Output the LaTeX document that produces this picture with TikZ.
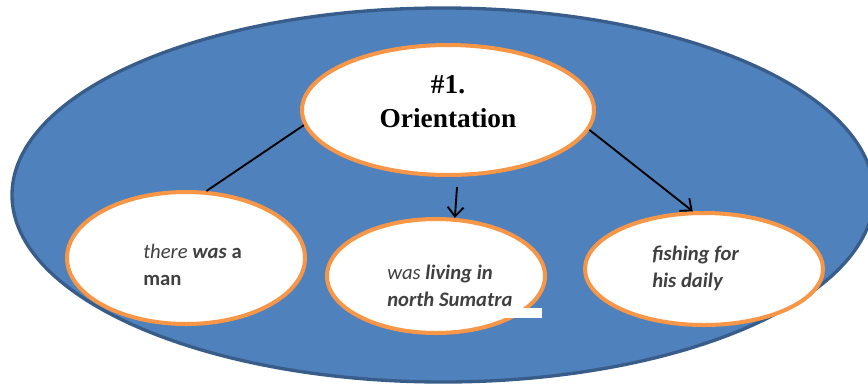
\documentclass[tikz,border=0pt]{standalone}
\usepackage{fontspec}
\setmainfont{Carlito}
\newfontfamily\serifb{Liberation Serif}
\usetikzlibrary{shapes.geometric,arrows.meta}
\definecolor{fillblue}{HTML}{4F81BD}
\definecolor{edgeblue}{HTML}{385D8A}
\definecolor{orangeedge}{HTML}{F79646}
\definecolor{textgray}{HTML}{404040}
\begin{document}
\begin{tikzpicture}[x=0.75pt,y=-0.75pt,
  bubble/.style={ellipse,draw=orangeedge,line width=3pt,fill=white,inner sep=0pt},
  txt/.style={anchor=base west,align=left,text=textgray,inner sep=0pt,
    font=\fontsize{15.5}{20.25}\selectfont},
  plainlink/.style={line width=1.4pt},
  link/.style={line width=1.4pt,-{Straight Barb[length=7pt,width=12pt]}}]
\useasboundingbox (0,0) rectangle (868,383);
\clip (0,0) rectangle (868,383);
% big background ellipse
\draw[fill=fillblue,draw=edgeblue,line width=2.5pt] (443,195) ellipse [x radius=323.25pt,y radius=140.25pt];
% bubbles
\node[bubble,minimum width=219pt,minimum height=97.5pt] (top) at (448,110) {};
\node[bubble,minimum width=178.5pt,minimum height=99pt] (left) at (186,258) {};
\node[bubble,minimum width=163.5pt,minimum height=85.5pt] (mid) at (436,276) {};
\node[bubble,minimum width=178.5pt,minimum height=84pt] (right) at (704,269) {};
\fill[white] (368,308) rectangle (542,318);
% texts (base anchor = baseline of the last line)
\node[anchor=base,align=center,inner sep=0pt,font=\serifb\bfseries\fontsize{20.5}{25.5}\selectfont] (ttop) at (448,127) {\#1.\\Orientation};
\node[txt] (tleft) at (143,285) {\textit{there} \textbf{\textit{was}} \textbf{a}\\\textbf{man}};
\node[txt] (tmid) at (387,306) {\textit{was} \textbf{\textit{living in}}\\\textbf{\textit{north Sumatra}}};
\node[txt] (tright) at (652,287) {\textbf{\textit{fishing for}}\\\textbf{\textit{his daily}}};
% connectors
\coordinate (mstart) at (457,187);
\draw[plainlink] (top.186) -- (left.73);
\draw[link] (mstart) -- (mid.72);
\draw[link] (top.352) -- (right.101);
\end{tikzpicture}
\end{document}
